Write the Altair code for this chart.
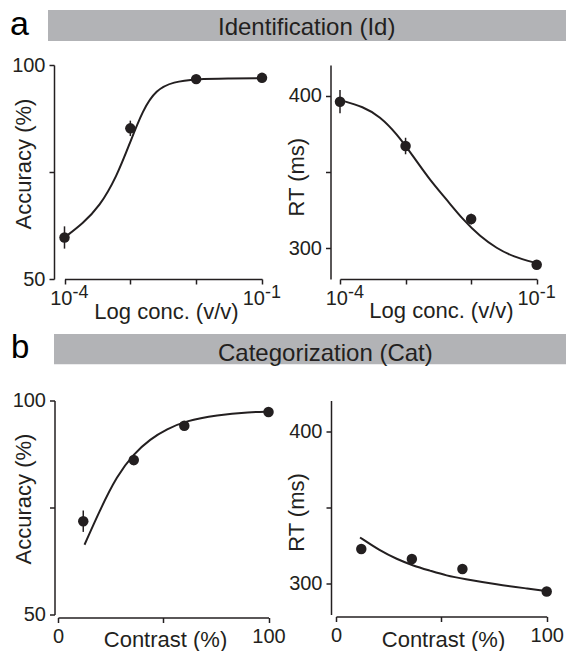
import altair as alt
import pandas as pd

FONT = "Liberation Sans"
INK = "#231f20"
BAND = "#b2b3b6"

# ---------------- a: identification across odor concentration (v/v) ----------------
id_conc = [1e-4, 1e-3, 1e-2, 1e-1]
id_acc = [59.7, 85.2, 96.7, 97.0]
id_acc_sem = [2.6, 1.8, 0.4, 0.4]
id_rt = [396.0, 367.0, 319.2, 289.3]
id_rt_sem = [7.6, 5.4, 3.5, 1.0]

# fitted curves
id_acc_fit_conc = [1.0e-4, 1.9e-4, 3.4e-4, 6.2e-4, 9.8e-4, 1.55e-3, 2.45e-3, 4.5e-3, 1.0e-2, 3.0e-2, 1.0e-1]
id_acc_fit = [59.7, 63.0, 66.9, 73.9, 81.7, 89.5, 94.2, 96.1, 96.7, 96.85, 96.9]
id_rt_fit_conc = [1.0e-4, 2.29e-4, 4.07e-4, 7.24e-4, 1.32e-3, 2.34e-3, 4.27e-3, 7.59e-3, 1.38e-2, 2.45e-2, 4.37e-2, 1.0e-1]
id_rt_fit = [397.1, 392.7, 386.2, 375.3, 360.0, 344.8, 331.7, 318.6, 307.7, 300.1, 294.6, 290.3]

# ---------------- b: categorization across morph contrast (%) ----------------
cat_contrast = [12, 36, 60, 100]
cat_acc = [71.8, 86.1, 94.1, 97.3]
cat_acc_sem = [2.5, 1.2, 0.4, 0.4]
cat_rt = [322.8, 316.3, 309.8, 295.0]
cat_rt_sem = [3.0, 1.8, 1.0, 1.0]

cat_acc_fit_contrast = [12.6, 20.0, 28.0, 35.9, 43.8, 51.8, 60.4, 75.5, 91.3, 100]
cat_acc_fit = [66.3, 74.5, 82.4, 87.5, 91.0, 93.3, 95.2, 96.6, 97.3, 97.4]
cat_rt_fit_contrast = [11.4, 20.9, 28.8, 36.7, 44.6, 52.5, 60.4, 76.2, 92.0, 100]
cat_rt_fit = [330.4, 321.7, 316.3, 311.9, 308.7, 305.4, 303.3, 299.6, 296.8, 295.3]

# tick values and labels
acc_ticks = [50, 75, 100]
rt_ticks = [300, 350, 400]
conc_ticks = [1e-4, 1e-3, 1e-2, 1e-1]
contrast_ticks = [0, 50, 100]
decade_label_conc = [1e-4, 1e-1]
decade_label_exp = ["-4", "-1"]

headers = ["Identification (Id)", "Categorization (Cat)"]
panel_letters = ["a", "b"]

W, H = 211, 214


def points_frame(x, y, sem):
    return pd.DataFrame({
        "x": x, "y": y,
        "lo": [v - e for v, e in zip(y, sem)],
        "hi": [v + e for v, e in zip(y, sem)],
    })


def fit_frame(x, y):
    return pd.DataFrame({"x": x, "y": y})


def y_axis(values, hidden, title, tx, ty, offset):
    return alt.Axis(
        values=values,
        labelExpr=f"datum.value == {hidden} ? '' : datum.label",
        title=title, titleX=tx, titleY=ty, titleAngle=-90,
        titleAlign="center", titleBaseline="middle", offset=offset,
    )


def x_axis(values, title, tx, ty, offset, labels=True, hidden=None):
    kw = {}
    if labels and hidden is not None:
        kw["labelExpr"] = f"datum.value == {hidden} ? '' : datum.label"
    return alt.Axis(
        values=values, labels=labels, title=title, titleX=tx, titleY=ty,
        titleAlign="center", titleBaseline="alphabetic", offset=offset, **kw,
    )


def panel(fit, pts, x_enc, yscale, yaxis):
    y_enc = alt.Y("y:Q", scale=yscale, axis=yaxis)
    curve = alt.Chart(fit).mark_line(
        color=INK, strokeWidth=2, interpolate="basis"
    ).encode(x=x_enc, y=y_enc)
    bars = alt.Chart(pts).mark_rule(color=INK, strokeWidth=1.5).encode(
        x=x_enc, y=alt.Y("lo:Q", scale=yscale, axis=yaxis), y2="hi:Q"
    )
    dots = alt.Chart(pts).mark_circle(size=110, color=INK, opacity=1).encode(
        x=x_enc, y=y_enc
    )
    return [curve, bars, dots]


def decade_labels(x_enc):
    layers = []
    for xv, exp, dx in zip(decade_label_conc, decade_label_exp, [8, 3]):
        df = pd.DataFrame({"x": [xv], "base": ["10"], "sup": [exp]})
        layers.append(
            alt.Chart(df).mark_text(
                font=FONT, fontSize=20, color=INK, align="right",
                baseline="alphabetic", dx=dx,
            ).encode(x=x_enc, y=alt.value(240), text="base:N")
        )
        layers.append(
            alt.Chart(df).mark_text(
                font=FONT, fontSize=18, color=INK, align="left",
                baseline="alphabetic", dx=dx,
            ).encode(x=x_enc, y=alt.value(233), text="sup:N")
        )
    return layers


def header(text, letter, band_top, band_bottom, band_left, text_base, letter_x, letter_base, letter_size):
    df = pd.DataFrame({"t": [text], "l": [letter]})
    band = alt.Chart(df).mark_rect(color=BAND).encode(
        x=alt.value(band_left), x2=alt.value(508),
        y=alt.value(band_top), y2=alt.value(band_bottom),
    )
    title = alt.Chart(df).mark_text(
        font=FONT, fontSize=24, color=INK, align="left", baseline="alphabetic"
    ).encode(x=alt.value(160), y=alt.value(text_base), text="t:N")
    lab = alt.Chart(df).mark_text(
        font=FONT, fontSize=letter_size, color="#000000", align="left", baseline="alphabetic"
    ).encode(x=alt.value(letter_x), y=alt.value(letter_base), text="l:N")
    return [band, title, lab]


acc_scale = alt.Scale(domain=[50, 100], nice=False, zero=False)
rt_scale = alt.Scale(domain=[280, 420], nice=False, zero=False)

# ---- a, accuracy ----
xa_left = alt.X("x:Q", scale=alt.Scale(type="log", domain=[1e-4, 1e-1], range=[6.5, 204], nice=False),
                axis=x_axis(conc_ticks, "Log conc. (v/v)", 108, 39, 0, labels=False))
a_left = alt.layer(
    *header(headers[0], panel_letters[0], -55, -24, -10, -30, -48, -30, 34),
    *panel(fit_frame(id_acc_fit_conc, id_acc_fit), points_frame(id_conc, id_acc, id_acc_sem),
           xa_left, acc_scale, y_axis(acc_ticks, 75, "Accuracy (%)", -30.5, 98.5, 4)),
    *decade_labels(xa_left),
).properties(width=W, height=H)

# ---- a, reaction time ----
xa_right = alt.X("x:Q", scale=alt.Scale(type="log", domain=[1e-4, 1e-1], range=[4, 200.7], nice=False),
                 axis=x_axis(conc_ticks, "Log conc. (v/v)", 105, 38, 0, labels=False))
a_right = alt.layer(
    *panel(fit_frame(id_rt_fit_conc, id_rt_fit), points_frame(id_conc, id_rt, id_rt_sem),
           xa_right, rt_scale, y_axis(rt_ticks, 350, "RT (ms)", -34.5, 111.7, 5.5)),
    *decade_labels(xa_right),
).properties(width=W, height=H)

# ---- b, accuracy ----
xb_left = alt.X("x:Q", scale=alt.Scale(domain=[0, 100], range=[0, 210.5], nice=False),
                axis=x_axis(contrast_ticks, "Contrast (%)", 107, 29, 3, hidden=50))
b_left = alt.layer(
    *header(headers[1], panel_letters[1], -66.5, -36.2, -4, -39.8, -47, -42.5, 33),
    *panel(fit_frame(cat_acc_fit_contrast, cat_acc_fit), points_frame(cat_contrast, cat_acc, cat_acc_sem),
           xb_left, acc_scale, y_axis(acc_ticks, 75, "Accuracy (%)", -30.8, 98, 3.5)),
).properties(width=W, height=H)

# ---- b, reaction time ----
xb_right = alt.X("x:Q", scale=alt.Scale(domain=[0, 100], range=[0, 210.7], nice=False),
                 axis=x_axis(contrast_ticks, "Contrast (%)", 107, 30, 2, hidden=50))
b_right = alt.layer(
    *panel(fit_frame(cat_rt_fit_contrast, cat_rt_fit), points_frame(cat_contrast, cat_rt, cat_rt_sem),
           xb_right, rt_scale, y_axis(rt_ticks, 350, "RT (ms)", -35, 111.5, 5)),
).properties(width=W, height=H)

chart = alt.concat(
    a_left, a_right, b_left, b_right,
    columns=2, spacing={"row": 121.5, "column": 67}, bounds="flush",
).properties(
    padding={"left": 10, "top": 8, "right": 0, "bottom": 0},
    autosize=alt.AutoSizeParams(type="pad"),
    background="white",
).configure_view(
    stroke=None
).configure_axis(
    grid=False,
    domainColor=INK, domainWidth=1.5,
    tickColor=INK, tickWidth=1.5, tickSize=5,
    labelFont=FONT, labelFontSize=20, labelColor=INK, labelPadding=4,
    labelFlush=False, labelOverlap=False,
    titleFont=FONT, titleFontSize=22, titleFontWeight="normal", titleColor=INK,
)

chart.save("out.html", embed_options={"renderer": "svg", "actions": False})
